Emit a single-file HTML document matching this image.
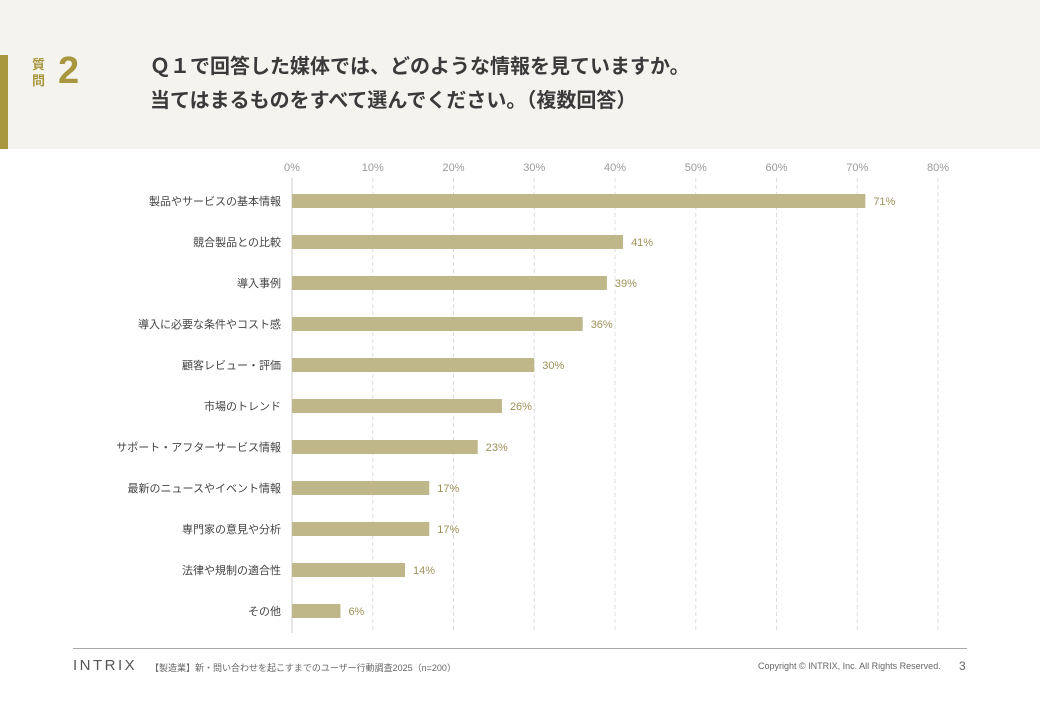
<!DOCTYPE html>
<html><head><meta charset="utf-8"><style>
body{margin:0;width:1040px;height:720px;background:#fff;position:relative;overflow:hidden;font-family:"Liberation Sans","Noto Sans CJK JP",sans-serif}
.hdr{position:absolute;left:0;top:0;width:1040px;height:149px;background:#f5f3ee}
.gold{position:absolute;left:0;top:55px;width:8px;height:94px;background:#a8973f}
.qk{position:absolute;left:32px;top:57px;font-size:13px;line-height:16px;color:#a8973f;font-weight:bold;width:14px}
.qn{position:absolute;left:58px;top:50px;font-size:38px;font-weight:bold;color:#a8973f}
.title{position:absolute;left:150px;top:50px;font-size:20px;line-height:34px;font-weight:bold;color:#3a3a3a;letter-spacing:0px}
.foot{position:absolute;font-size:9px;color:#666}
</style></head><body>
<div class="hdr"></div>
<div class="gold"></div>
<div class="qk">質問</div>
<div class="qn">2</div>
<div class="title">Ｑ１で回答した媒体では、どのような情報を見ていますか。<br>当てはまるものをすべて選んでください。（複数回答）</div>
<svg id="chart" width="1040" height="720" style="position:absolute;left:0;top:0"></svg>
<div style="position:absolute;left:73px;top:648px;width:894px;height:1px;background:#aaa"></div>
<div class="foot" style="left:73px;top:657px;font-size:15px;letter-spacing:2.5px;color:#555">INTRIX</div>
<div class="foot" style="left:150px;top:661px">【製造業】新・問い合わせを起こすまでのユーザー行動調査2025（n=200）</div>
<div class="foot" style="left:758px;top:661px">Copyright © INTRIX, Inc. All Rights Reserved.</div>
<div class="foot" style="left:959px;top:659px;font-size:12px">3</div>
<script>
const categories=["製品やサービスの基本情報","競合製品との比較","導入事例","導入に必要な条件やコスト感","顧客レビュー・評価","市場のトレンド","サポート・アフターサービス情報","最新のニュースやイベント情報","専門家の意見や分析","法律や規制の適合性","その他"];
const values=[71,41,39,36,30,26,23,17,17,14,6];
const ticks=[0,10,20,30,40,50,60,70,80];
const NS="http://www.w3.org/2000/svg";
const svg=document.getElementById('chart');
const x=v=>292+v*8.075;
const y=i=>201+i*41;
function mk(t,a){const e=document.createElementNS(NS,t);for(const k in a)e.setAttribute(k,a[k]);svg.appendChild(e);return e;}
ticks.forEach(t=>{
  const l=mk('line',{x1:x(t),x2:x(t),y1:178,y2:633,stroke:t===0?'#ccc':'#ddd','stroke-dasharray':t===0?'':'4,3'});
  
  
  const tx=mk('text',{x:x(t),y:171,'text-anchor':'middle','font-size':11,fill:'#999'});
  tx.textContent=t+'%';
  
  
});
categories.forEach((c,i)=>{
  const lb=mk('text',{x:281,y:y(i)+4,'text-anchor':'end','font-size':11,fill:'#444'});
  lb.textContent=c;
  
  
  const b=mk('rect',{x:x(0),y:y(i)-7,width:x(values[i])-x(0),height:14,fill:'#bfb68a'});
  
  
  const v=mk('text',{x:x(values[i])+8,y:y(i)+4,'font-size':11,fill:'#9c9158'});
  v.textContent=values[i]+'%';
  
  
});
</script>
</body></html>
